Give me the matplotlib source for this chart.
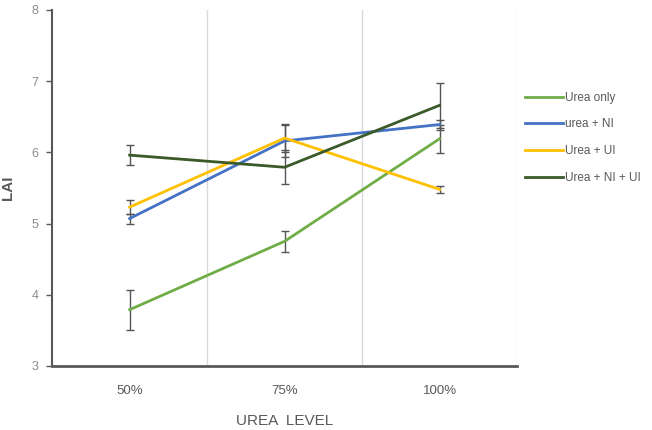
import numpy as np
import matplotlib
matplotlib.use("Agg")
from matplotlib import pyplot as plt
from matplotlib.lines import Line2D

plt.rcParams["font.family"] = ["Liberation Sans Narrow", "Liberation Sans", "DejaVu Sans"]

# データ
levels = ["50%", "75%", "100%"]
series_names = ["Urea only", "urea + NI", "Urea + UI", "Urea + NI + UI"]
lai = [
    [3.79, 4.75, 6.19],
    [5.07, 6.16, 6.39],
    [5.23, 6.20, 5.48],
    [5.96, 5.79, 6.66],
]
lai_err = [
    [0.28, 0.15, 0.20],
    [0.07, 0.22, 0.07],
    [0.10, 0.20, 0.05],
    [0.14, 0.24, 0.32],
]
colors = ["#70AD47", "#4472C4", "#FFC000", "#3A5A2A"]

fig = plt.figure(figsize=(6.52, 4.30), dpi=100)
ax = fig.add_axes([0.08, 0.149, 0.713, 0.828])

x = np.arange(len(levels))
handles = []
for vals, errs, name, c in zip(lai, lai_err, series_names, colors):
    ax.errorbar(x, vals, yerr=errs, color=c, lw=2.0,
                ecolor="#555555", elinewidth=1.0, capsize=3, capthick=1.0)
    handles.append(Line2D([], [], color=c, lw=2.0, label=name))

# カテゴリの区切り線
for b in [0.5, 1.5, 2.5]:
    ax.axvline(b, color="#d9d9d9", lw=1.0, zorder=0)

ax.set_xlim(-0.5, 2.5)
ax.set_ylim(3, 8)
ax.set_xticks(x)
ax.set_xticklabels(levels)
ax.set_yticks(range(3, 9))
ax.tick_params(axis="x", length=0, pad=14, labelsize=9.5, colors="#595959")
ax.tick_params(axis="y", length=4, width=1.0, color="#595959", labelsize=9,
               labelcolor="#8c8c8c", pad=6)

for s in ["top", "right"]:
    ax.spines[s].set_visible(False)
ax.spines["left"].set_color("#595959")
ax.spines["left"].set_linewidth(1.5)
ax.spines["bottom"].set_color("#595959")
ax.spines["bottom"].set_linewidth(2.0)

ax.set_xlabel("UREA  LEVEL", fontsize=11, color="#595959", labelpad=12)
ax.set_ylabel("LAI", fontsize=11, color="#595959", fontweight="bold", labelpad=12)

ax.legend(handles=handles, loc="upper left", bbox_to_anchor=(0.995, 0.80),
          frameon=False, fontsize=8.5, labelcolor="#595959", handlelength=3.2,
          handletextpad=0.2, labelspacing=1.25)

fig.savefig("out.png", dpi=100)
